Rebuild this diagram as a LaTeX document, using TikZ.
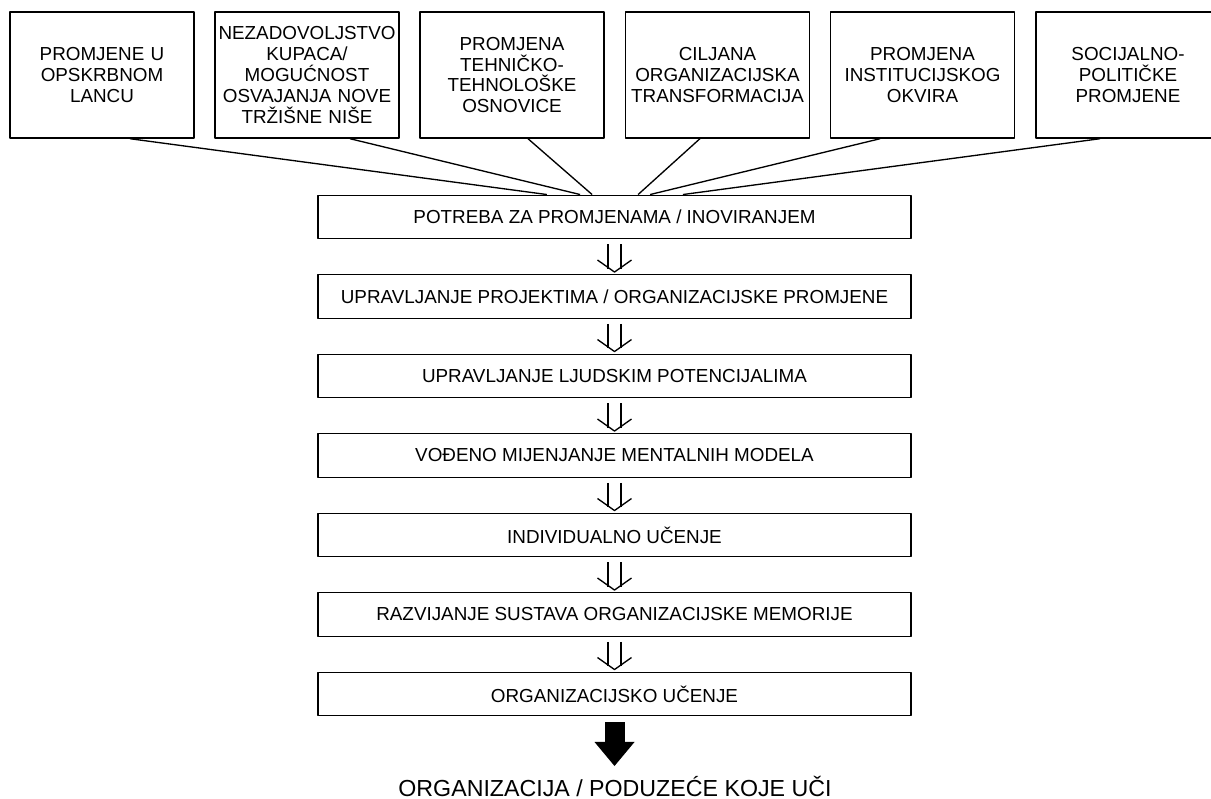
\documentclass[tikz,border=0pt]{standalone}
\usepackage{fontspec}
\setmainfont{Liberation Sans}
\usetikzlibrary{arrows.meta}
\begin{document}
\begin{tikzpicture}[x=0.025cm, y=-0.025cm, line join=round,
    cause/.style={draw, line width=1pt, minimum width=4.6cm, minimum height=3.15cm,
        inner sep=0pt, text width=4.55cm, align=center, font=\fontsize{13.4}{14.8}\selectfont},
    stage/.style={draw, line width=1pt, minimum width=14.825cm, minimum height=1.0875cm,
        inner sep=0pt, font=\fontsize{13.4}{15}\selectfont},
    link/.style={line width=0.95pt},
    bigarrow/.style={line width=0.5cm, -{Triangle[length=0.6cm, width=1cm, line width=0pt]}}]
    \useasboundingbox (0,0) rectangle (1211,799);
    \clip (0,0) rectangle (1211,799);
    % uzroci promjena
    \node[cause] (c1) at (102,75) {PROMJENE U\\OPSKRBNOM\\LANCU};
    \node[cause] (c2) at (307,75) {NEZADOVOLJSTVO\\KUPACA/\\MOGUĆNOST\\OSVAJANJA NOVE\\TRŽIŠNE NIŠE};
    \node[cause] (c3) at (512,75) {PROMJENA\\TEHNIČKO-\\TEHNOLOŠKE\\OSNOVICE};
    \node[cause] (c4) at (717.5,75) {CILJANA\\ORGANIZACIJSKA\\TRANSFORMACIJA};
    \node[cause] (c5) at (922.5,75) {PROMJENA\\INSTITUCIJSKOG\\OKVIRA};
    \node[cause] (c6) at (1128,75) {SOCIJALNO-\\POLITIČKE\\PROMJENE};
    % faze
    \foreach \i/\t in {1/{POTREBA ZA PROMJENAMA / INOVIRANJEM},
        2/{UPRAVLJANJE PROJEKTIMA / ORGANIZACIJSKE PROMJENE},
        3/{UPRAVLJANJE LJUDSKIM POTENCIJALIMA},
        4/{VOĐENO MIJENJANJE MENTALNIH MODELA},
        5/{INDIVIDUALNO UČENJE},
        6/{RAZVIJANJE SUSTAVA ORGANIZACIJSKE MEMORIJE},
        7/{ORGANIZACIJSKO UČENJE}}
        \node[stage] (s\i) at (614.5,{217+79.5*(\i-1)}) {\t};
    \node[anchor=base, font=\fontsize{16.5}{18}\selectfont] (goal) at (615,796) {ORGANIZACIJA / PODUZEĆE KOJE UČI};
    \coordinate (tip) at (614.5,766);
    % veze
    \foreach \i/\a/\b in {1/0.7/-1.69, 2/1.075/-0.86, 3/0.4/-0.56, 4/-0.44/0.59, 5/-1.06/0.89, 6/-0.7/1.71}
        \draw[link] ([xshift=\a cm]c\i.south) -- ([xshift=\b cm]s1.north);
    \foreach \i/\j in {1/2,2/3,3/4,4/5,5/6,6/7}{
        \draw[link] (s\i.south) ++(-6.5,5) -- ++(0,24.5);
        \draw[link] (s\i.south) ++(6.5,5) -- ++(0,24.5);
        \draw[link] (s\j.north) ++(-17,-14) -- ++(17,12) -- ++(17,-12);
    }
    \draw[bigarrow] ([yshift=-0.15cm]s7.south) -- (tip);
\end{tikzpicture}
\end{document}
